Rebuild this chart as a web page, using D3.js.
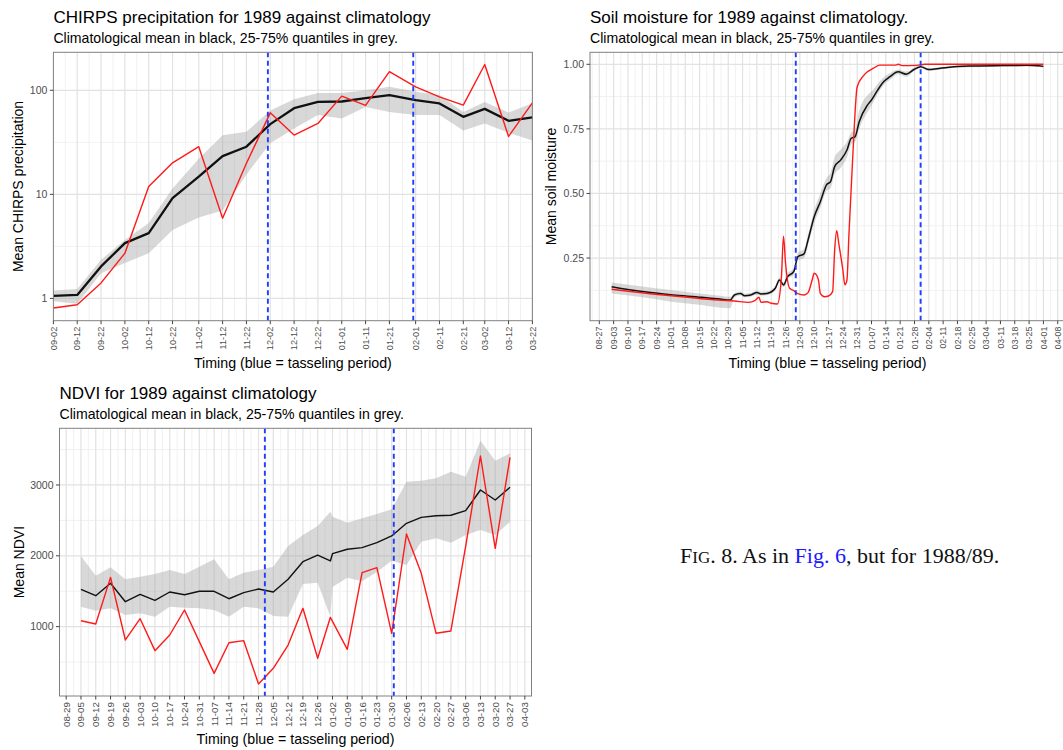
<!DOCTYPE html>
<html>
<head>
<meta charset="utf-8">
<script src="https://cdn.jsdelivr.net/npm/d3@7"></script>
<style>
  body { margin: 0; background: #fff; }
  svg { display: block; }
  .sans { font-family: "Liberation Sans", Arial, Helvetica, sans-serif; }
  .serif { font-family: "Liberation Serif", "Times New Roman", serif; }
</style>
</head>
<body>
<svg id="fig" width="1063" height="750"></svg>
<script>
// ---------- CHIRPS precipitation (dekadal) ----------
const chirpsDekads = ["09-02","09-12","09-22","10-02","10-12","10-22","11-02","11-12","11-22","12-02",
  "12-12","12-22","01-01","01-11","01-21","02-01","02-11","02-21","03-02","03-12","03-22"];
const chirpsObs  = [0.81, 0.87, 1.41, 2.72, 11.9, 20.1, 28.7, 5.9, 19.9, 60.7, 37.1, 48, 87.8, 71.5, 151, 108, 86.5, 72, 177, 36, 75.7];
const chirpsMean = [1.06, 1.08, 2.03, 3.4, 4.24, 9.2, 14.8, 23.3, 28.7, 47.3, 67.3, 77.4, 78, 84, 89.8, 80.4, 74.7, 55.6, 66.3, 50.9, 54.8];
const chirpsQ25  = [0.94, 0.89, 1.75, 2.19, 2.72, 4.55, 6.0, 7.0, 15.5, 31, 43, 58, 53.5, 69, 62, 58, 58, 41, 48, 39, 33];
const chirpsQ75  = [1.19, 1.23, 2.35, 3.65, 5.3, 11.4, 22, 37, 40, 64, 82, 94, 94, 100, 108, 96.6, 90, 62, 77, 61, 75];
const chirpsTicks = chirpsDekads;
const chirpsYTicks = [1, 10, 100];

// ---------- Soil moisture (daily) ----------
const soilClimDates = ["09-02","09-17","10-02","10-16","10-25","10-30","11-01","11-04","11-06","11-09","11-12","11-14",
  "11-17","11-21","11-23","11-25","11-27","11-30","12-02","12-05","12-07","12-10","12-13","12-16","12-18","12-20",
  "12-23","12-26","12-28","12-30","01-01","01-05","01-07","01-10","01-13","01-16","01-20","01-24","01-28","01-31",
  "02-04","02-08","02-13","02-24","03-12","03-24","04-01"];
const soilClimMean = [0.139,0.120,0.107,0.098,0.091,0.0875,0.107,0.113,0.104,0.107,0.117,0.111,
  0.113,0.133,0.165,0.146,0.178,0.197,0.255,0.266,0.320,0.410,0.468,0.533,0.546,0.604,
  0.630,0.668,0.713,0.720,0.778,0.842,0.862,0.900,0.933,0.952,0.971,0.962,0.981,0.991,
  0.980,0.983,0.988,0.993,0.995,0.996,0.992];
const soilClimQ25 = [0.113,0.098,0.080,0.068,0.058,0.056,0.098,0.105,0.097,0.100,0.108,0.104,
  0.106,0.124,0.155,0.137,0.168,0.185,0.240,0.250,0.300,0.385,0.445,0.510,0.520,0.575,
  0.600,0.640,0.690,0.700,0.750,0.815,0.840,0.885,0.920,0.940,0.962,0.952,0.975,0.986,
  0.975,0.978,0.984,0.989,0.991,0.992,0.988];
const soilClimQ75 = [0.155,0.140,0.125,0.112,0.104,0.100,0.114,0.120,0.112,0.115,0.124,0.119,
  0.121,0.142,0.175,0.156,0.190,0.210,0.270,0.285,0.340,0.435,0.500,0.560,0.580,0.640,
  0.670,0.700,0.735,0.750,0.820,0.880,0.895,0.925,0.950,0.965,0.980,0.972,0.988,0.996,
  0.985,0.988,0.992,0.997,0.999,1.000,0.996];
const soilObsDates = ["09-02","09-22","10-09","10-24","11-01","11-08","11-11","11-13","11-14","11-17","11-19","11-22",
  "11-24","11-25","11-26","11-28","11-30","12-02","12-05","12-07","12-09","12-10","12-12","12-13","12-15","12-17",
  "12-19","12-20","12-21","12-22","12-24","12-25","12-26","12-27","12-29","12-31","01-03","01-05","01-08","01-11",
  "01-19","01-20","01-22","01-29","02-02","04-01"];
const soilObs = [0.129,0.111,0.098,0.0875,0.0836,0.0785,0.085,0.098,0.0785,0.081,0.075,0.072,
  0.178,0.335,0.230,0.133,0.124,0.112,0.107,0.116,0.165,0.191,0.168,0.113,0.100,0.103,
  0.120,0.281,0.356,0.307,0.204,0.146,0.165,0.346,0.668,0.913,0.955,0.971,0.985,0.997,
  0.997,1.000,0.995,0.996,1.000,1.000];
const soilTicks = ["08-27","09-03","09-10","09-17","09-24","10-01","10-08","10-15","10-22","10-29","11-05","11-12",
  "11-19","11-26","12-03","12-10","12-17","12-24","12-31","01-07","01-14","01-21","01-28","02-04","02-11","02-18",
  "02-25","03-04","03-11","03-18","03-25","04-01","04-08"];
const soilYTicks = [0.25, 0.50, 0.75, 1.00];

// ---------- NDVI (weekly) ----------
const ndviDates = ["09-05","09-12","09-19","09-26","10-03","10-10","10-17","10-24","10-31","11-07","11-14","11-21",
  "11-28","12-05","12-12","12-19","12-26","01-01","01-02","01-09","01-16","01-23","01-30","02-06","02-13","02-20",
  "02-27","03-06","03-13","03-20","03-27"];
const ndviObs  = [1084,1037,1696,812,1112,661,882,1235,788,341,773,802,
  191,412,740,1259,553,1132,1075,680,1762,1832,906,2308,1753,906,
  939,2134,3409,2106,3390];
const ndviMean = [1527,1437,1612,1352,1456,1372,1489,1451,1499,1499,1394,1480,
  1531,1489,1670,1917,2011,1927,2030,2092,2115,2185,2280,2459,2543,2566,
  2572,2637,2929,2788,2967];
const ndviQ25  = [1282,1225,1259,1164,1188,1141,1282,1268,1259,1235,1141,1282,
  1259,1150,1141,1602,1621,1141,1560,1690,1640,1770,1930,1870,2200,2247,
  2185,2294,2364,2294,2481];
const ndviQ75  = [1997,1719,1838,1668,1705,1743,1800,1743,1847,1951,1668,1762,
  1800,1847,2140,2294,2421,2623,2552,2467,2529,2590,2656,3046,3060,3094,
  3187,3117,3625,3342,3447];
const ndviTicks = ["08-29","09-05","09-12","09-19","09-26","10-03","10-10","10-17","10-24","10-31","11-07","11-14",
  "11-21","11-28","12-05","12-12","12-19","12-26","01-02","01-09","01-16","01-23","01-30","02-06","02-13","02-20",
  "02-27","03-06","03-13","03-20","03-27","04-03"];
const ndviYTicks = [1000, 2000, 3000];

// Tasseling window (blue dashed lines)
const tasseling = ["12-01", "01-31"];

// Season runs Sep 1988 - Apr 1989: "MM-DD" -> Date
function md(s) {
  const [m, d] = s.split("-").map(Number);
  return new Date(Date.UTC(m >= 8 ? 1988 : 1989, m - 1, d));
}
const dayOff = (s, n) => new Date(md(s).getTime() + n * 86400000);

const svg = d3.select("#fig");
svg.append("rect").attr("width", 1063).attr("height", 750).attr("fill", "#fff");

const C = {
  gridMajor: "#e2e2e2", gridMinor: "#efefef", border: "#808080",
  tickText: "#4d4d4d", ribbon: "#a3a3a3", red: "#ff1a1a", blue: "#1f3cff"
};

function drawPanel(o) {
  const { y, L, R, T, B } = o;
  const g = svg.append("g").attr("class", "sans");
  g.append("rect").attr("x", L).attr("y", T).attr("width", R - L).attr("height", B - T).attr("fill", "#fff");

  const clipId = "clip" + Math.round(L) + "_" + Math.round(T);
  g.append("clipPath").attr("id", clipId).append("rect")
    .attr("x", L).attr("y", T).attr("width", R - L).attr("height", B - T);
  const inner = g.append("g").attr("clip-path", `url(#${clipId})`);

  // minor grid sits halfway between major breaks
  const xt = o.xTicks.map(o.xPos);
  const step = xt[1] - xt[0];
  const xMinor = [xt[0] - step / 2];
  for (let i = 0; i < xt.length - 1; i++) xMinor.push((xt[i] + xt[i + 1]) / 2);
  xMinor.push(xt[xt.length - 1] + step / 2);
  inner.selectAll(null).data(o.yMinor).join("line")
    .attr("x1", L).attr("x2", R).attr("y1", d => y(d)).attr("y2", d => y(d))
    .attr("stroke", C.gridMinor).attr("stroke-width", 0.9);
  inner.selectAll(null).data(xMinor).join("line")
    .attr("x1", d => d).attr("x2", d => d).attr("y1", T).attr("y2", B)
    .attr("stroke", C.gridMinor).attr("stroke-width", 0.9);
  // major grid
  inner.selectAll(null).data(o.yTicks).join("line")
    .attr("x1", L).attr("x2", R).attr("y1", d => y(d)).attr("y2", d => y(d))
    .attr("stroke", C.gridMajor).attr("stroke-width", 1.2);
  inner.selectAll(null).data(xt).join("line")
    .attr("x1", d => d).attr("x2", d => d).attr("y1", T).attr("y2", B)
    .attr("stroke", C.gridMajor).attr("stroke-width", 1.2);

  // quantile ribbon
  const area = d3.area().x(d => o.xPos(d.t)).y0(d => y(d.lo)).y1(d => y(d.hi)).curve(o.curve);
  inner.append("path").datum(o.clim).attr("d", area)
    .attr("fill", C.ribbon).attr("fill-opacity", 0.42);

  const line = (acc) => d3.line().x(d => o.xPos(d.t)).y(d => y(d[acc])).curve(o.curve);
  // climatological mean
  inner.append("path").datum(o.clim).attr("d", line("m"))
    .attr("fill", "none").attr("stroke", "#111").attr("stroke-width", o.meanWidth)
    .attr("stroke-linejoin", "round");
  // observed season
  inner.append("path").datum(o.obs).attr("d", line("v"))
    .attr("fill", "none").attr("stroke", C.red).attr("stroke-width", 1.4)
    .attr("stroke-linejoin", "round");

  // tasseling period
  inner.selectAll(null).data(tasseling).join("line")
    .attr("x1", d => o.xPos(d)).attr("x2", d => o.xPos(d)).attr("y1", T).attr("y2", B)
    .attr("stroke", C.blue).attr("stroke-width", 1.9).attr("stroke-dasharray", "5,3.5");

  // border
  g.append("rect").attr("x", L).attr("y", T).attr("width", R - L).attr("height", B - T)
    .attr("fill", "none").attr("stroke", C.border).attr("stroke-width", 1);

  // y axis ticks & labels
  g.selectAll(null).data(o.yTicks).join("line")
    .attr("x1", L - 3.5).attr("x2", L).attr("y1", d => y(d)).attr("y2", d => y(d))
    .attr("stroke", "#444").attr("stroke-width", 1);
  g.selectAll(null).data(o.yTicks).join("text")
    .attr("x", L - 6).attr("y", d => y(d)).attr("dy", "0.35em")
    .attr("text-anchor", "end").attr("font-size", 10.5).attr("fill", C.tickText)
    .text(o.yFormat);

  // x axis ticks & rotated labels
  g.selectAll(null).data(o.xTicks).join("line")
    .attr("x1", d => o.xPos(d)).attr("x2", d => o.xPos(d)).attr("y1", B).attr("y2", B + 3.5)
    .attr("stroke", "#444").attr("stroke-width", 1);
  g.selectAll(null).data(o.xTicks).join("text")
    .attr("transform", d => `translate(${o.xPos(d)},${B + 6}) rotate(-90)`)
    .attr("dy", "0.35em").attr("text-anchor", "end")
    .attr("font-size", o.xFont).attr("fill", C.tickText)
    .text(d => d);

  // titles
  g.append("text").attr("x", L).attr("y", o.titleY).attr("font-size", 17).attr("fill", "#000").text(o.title);
  g.append("text").attr("x", L).attr("y", o.titleY + 20).attr("font-size", 14.1).attr("fill", "#000")
    .text("Climatological mean in black, 25-75% quantiles in grey.");
  g.append("text").attr("x", (L + R) / 2).attr("y", o.xTitleY).attr("text-anchor", "middle")
    .attr("font-size", 14.2).attr("fill", "#000").text("Timing (blue = tasseling period)");
  g.append("text").attr("transform", `translate(${o.yTitleX},${(T + B) / 2}) rotate(-90)`)
    .attr("dy", "0.35em").attr("text-anchor", "middle").attr("font-size", 14).attr("fill", "#000")
    .text(o.yTitle);
}

// ----- Panel 1: CHIRPS (log scale) -----
{
  const L = 53.4, R = 532.4, T = 52.3, B = 320.7;
  const x = d3.scaleUtc().domain([md("09-02"), md("03-22")]).range([L, R]);
  const y = d3.scaleLog().domain([0.611, 231.7]).range([B, T]);
  drawPanel({
    y, L, R, T, B, xPos: s => x(md(s)),
    xTicks: chirpsTicks, yTicks: chirpsYTicks, yMinor: [Math.sqrt(10), Math.sqrt(1000)],
    yFormat: d => String(d),
    clim: chirpsDekads.map((t, i) => ({ t, m: chirpsMean[i], lo: chirpsQ25[i], hi: chirpsQ75[i] })),
    obs: chirpsDekads.map((t, i) => ({ t, v: chirpsObs[i] })),
    curve: d3.curveLinear, meanWidth: 2.3, xFont: 9.2,
    title: "CHIRPS precipitation for 1989 against climatology", titleY: 22.5,
    xTitleY: 367.5, yTitleX: 18, yTitle: "Mean CHIRPS precipitation"
  });
}

// ----- Panel 2: soil moisture -----
{
  const L = 590, R = 1065, T = 52.3, B = 320.7;
  const x = d3.scaleUtc().domain([dayOff("09-02", -10.55), dayOff("04-01", 10.55)]).range([L, R]);
  const y = d3.scaleLinear().domain([0.0074, 1.0465]).range([B, T]);
  drawPanel({
    y, L, R, T, B, xPos: s => x(md(s)),
    xTicks: soilTicks, yTicks: soilYTicks, yMinor: [0.125, 0.375, 0.625, 0.875],
    yFormat: d3.format(".2f"),
    clim: soilClimDates.map((t, i) => ({ t, m: soilClimMean[i], lo: soilClimQ25[i], hi: soilClimQ75[i] })),
    obs: soilObsDates.map((t, i) => ({ t, v: soilObs[i] })),
    curve: d3.curveMonotoneX, meanWidth: 1.5, xFont: 8.8,
    title: "Soil moisture for 1989 against climatology.", titleY: 22.5,
    xTitleY: 367.5, yTitleX: 551, yTitle: "Mean soil moisture"
  });
}

// ----- Panel 3: NDVI -----
{
  const L = 59.5, R = 531.5, T = 428.3, B = 696;
  const x = d3.scaleUtc().domain([dayOff("09-05", -10.15), dayOff("03-27", 10.15)]).range([L, R]);
  const y = d3.scaleLinear().domain([21, 3800]).range([B, T]);
  drawPanel({
    y, L, R, T, B, xPos: s => x(md(s)),
    xTicks: ndviTicks, yTicks: ndviYTicks, yMinor: [500, 1500, 2500, 3500],
    yFormat: d => String(d),
    clim: ndviDates.map((t, i) => ({ t, m: ndviMean[i], lo: ndviQ25[i], hi: ndviQ75[i] })),
    obs: ndviDates.map((t, i) => ({ t, v: ndviObs[i] })),
    curve: d3.curveLinear, meanWidth: 1.4, xFont: 9.8,
    title: "NDVI for 1989 against climatology", titleY: 399.3,
    xTitleY: 743.5, yTitleX: 18.6, yTitle: "Mean NDVI"
  });
}

// ----- Figure caption -----
const cap = svg.append("text").attr("class", "serif").attr("x", 680).attr("y", 563.3)
  .attr("font-size", 22).attr("fill", "#111");
cap.append("tspan").text("F");
cap.append("tspan").attr("font-size", 17).text("IG");
cap.append("tspan").text(". 8. As in ");
cap.append("tspan").attr("fill", "#1a1aff").text("Fig. 6");
cap.append("tspan").text(", but for 1988/89.");
</script>
</body>
</html>
